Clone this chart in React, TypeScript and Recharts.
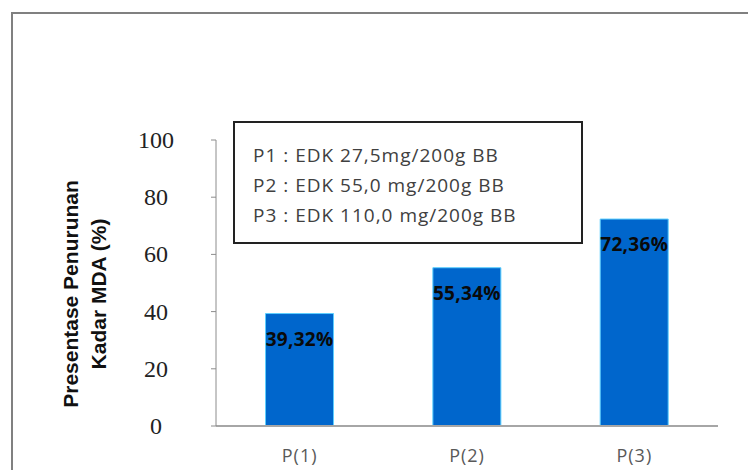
import { BarChart, Bar, XAxis, YAxis, Legend, LabelList } from 'recharts';

const categories = ['P(1)', 'P(2)', 'P(3)'];
const reduction = [39.32, 55.34, 72.36];
const valueLabels = ['39,32%', '55,34%', '72,36%'];
const yTicks = [0, 20, 40, 60, 80, 100];
const legendLines = [
  'P1 : EDK 27,5mg/200g BB',
  'P2 : EDK 55,0 mg/200g BB',
  'P3 : EDK 110,0 mg/200g BB',
];

const data = categories.map((name, i) => ({
  name,
  value: reduction[i],
  label: valueLabels[i],
}));

const YTick = (props: any) => {
  const { x, y, payload } = props;
  return (
    <text
      x={x - 53}
      y={y + 8}
      textAnchor="middle"
      fontFamily="'Liberation Serif', 'Times New Roman', serif"
      fontSize={24}
      fill="#222"
    >
      {payload.value}
    </text>
  );
};

const XTick = (props: any) => {
  const { x, y, payload } = props;
  return (
    <text
      x={x}
      y={y + 28}
      textAnchor="middle"
      fontFamily="'Open Sans', sans-serif"
      fontSize={18}
      letterSpacing={1}
      fill="#595959"
    >
      {payload.value}
    </text>
  );
};

const BarLabel = (props: any) => {
  const { x, y, width, value } = props;
  return (
    <text
      x={x + width / 2}
      y={y + 32}
      textAnchor="middle"
      fontFamily="'Open Sans', sans-serif"
      fontWeight="bold"
      fontSize={19}
      letterSpacing={0.3}
      fill="#0a0a0a"
    >
      {value}
    </text>
  );
};

const LegendBox = () => (
  <div
    style={{
      boxSizing: 'border-box',
      width: 350,
      height: 123,
      border: '2px solid #222',
      padding: '17px 0 0 18px',
      fontFamily: "'Open Sans', sans-serif",
      fontSize: 19,
      letterSpacing: 1,
      lineHeight: '30px',
      color: '#404040',
      textAlign: 'left',
      background: '#fff',
    }}
  >
    {legendLines.map((t) => (
      <div key={t}>{t}</div>
    ))}
  </div>
);

const YLabel = () => {
  const cx = 84;
  const cy = 294;
  return (
    <text
      transform={`rotate(-90 ${cx} ${cy})`}
      x={cx}
      y={cy}
      textAnchor="middle"
      fontFamily="'Liberation Sans', Arial, sans-serif"
      fontWeight="bold"
      fontSize={21}
      fill="#111"
    >
      <tspan x={cx} dy={-6}>Presentase Penurunan</tspan>
      <tspan x={cx} dy={28}>Kadar MDA (%)</tspan>
    </text>
  );
};

export default function App() {
  return (
    <div
      style={{
        position: 'absolute',
        left: 0,
        top: 0,
        width: 748,
        height: 470,
        background: '#fff',
        overflow: 'hidden',
      }}
    >
      <div
        style={{
          position: 'absolute',
          left: 11,
          top: 12,
          width: 760,
          height: 480,
          borderTop: '2px solid #808080',
          borderLeft: '2px solid #808080',
        }}
      />
      <div style={{ position: 'absolute', left: 0, top: 0 }}>
        <BarChart
          width={748}
          height={470}
          data={data}
          margin={{ top: 140, right: 30, bottom: 0, left: 0 }}
          barCategoryGap="29.6%"
        >
          <XAxis
            dataKey="name"
            height={44}
            axisLine={{ stroke: '#a6a6a6', strokeWidth: 2 }}
            tickLine={false}
            tick={<XTick />}
          />
          <YAxis
            width={216}
            domain={[0, 100]}
            ticks={yTicks}
            interval={0}
            axisLine={{ stroke: '#8c8c8c' }}
            tickLine={{ stroke: '#8c8c8c' }}
            tickSize={5}
            tick={<YTick />}
            label={<YLabel />}
          />
          <Bar dataKey="value" fill="#0066cc" stroke="#5ccfff" strokeWidth={1} isAnimationActive={false}>
            <LabelList dataKey="label" content={<BarLabel />} />
          </Bar>
          <Legend
            layout="vertical"
            align="center"
            verticalAlign="middle"
            content={<LegendBox />}
            wrapperStyle={{ position: 'absolute', left: 233, top: 121, width: 350, height: 123 }}
          />
        </BarChart>
      </div>
    </div>
  );
}
